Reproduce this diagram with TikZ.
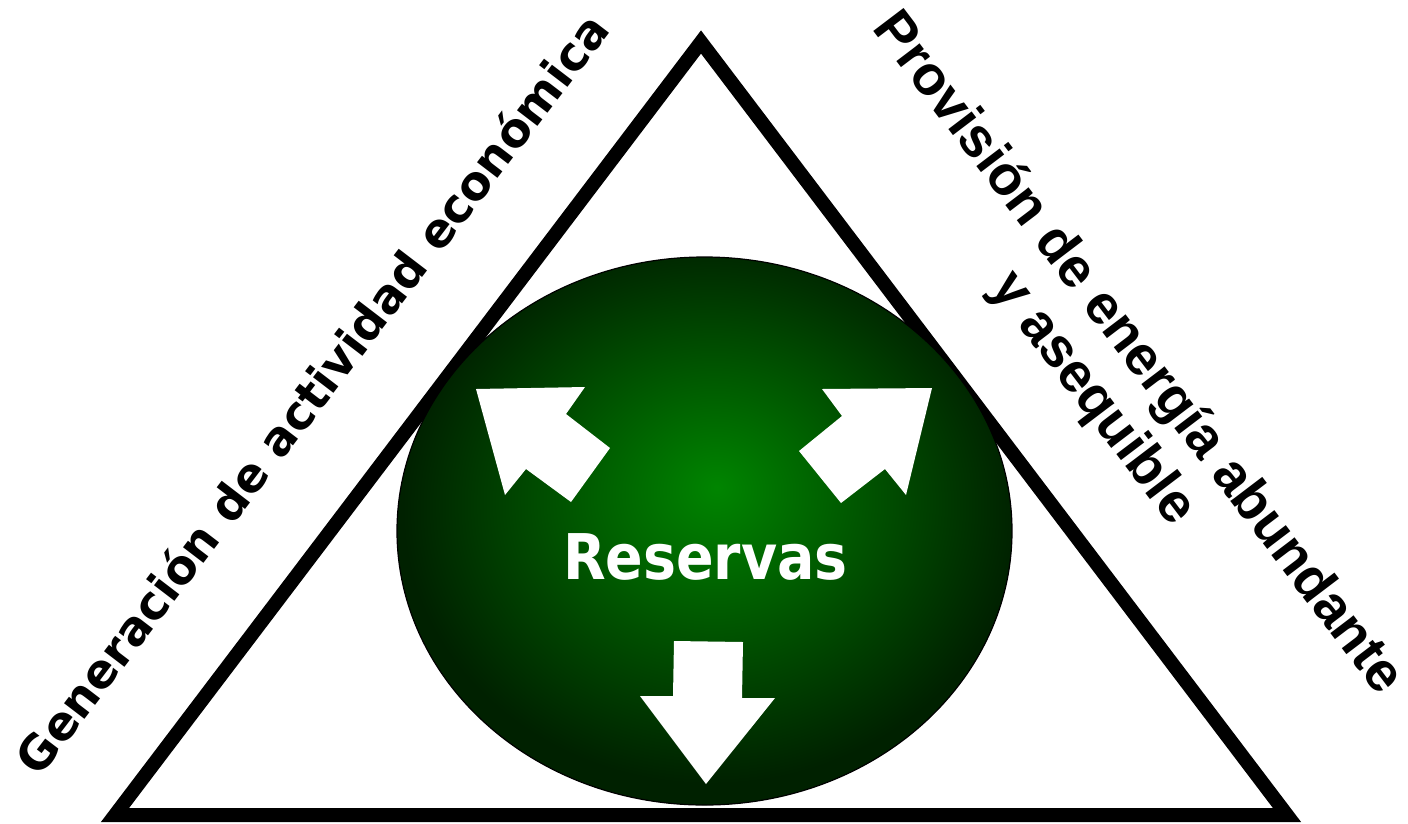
\documentclass[tikz,border=0pt]{standalone}
\usepackage{fontspec}
\newfontfamily\vfont{DejaVu Sans}[BoldFont={DejaVu Sans Bold}]
\newfontfamily\afont{Liberation Sans}
\pgfdeclareradialshading{resshade}{\pgfpoint{1bp}{4bp}}{rgb(0bp)=(0,0.52,0); rgb(25bp)=(0,0.13,0); rgb(50bp)=(0,0.13,0)}
\begin{document}
\begin{tikzpicture}[x=1pt,y=-1pt,
  tri/.style={draw=black,line width=14pt,miter limit=10},
  blob/.style={shading=resshade,draw=black,line width=1.2pt},
  warrow/.style={fill=white,draw=none},
  sidetext/.style={inner sep=0pt,align=center,text=black},
  rtext/.style={sidetext,rotate=-52.8,font=\afont\bfseries\fontsize{55.3}{67}\selectfont}]
\useasboundingbox (0,0) rectangle (1408,823);
\fill[white] (0,0) rectangle (1408,823);
\draw[tri] (701,42) -- (115,815) -- (1287,815) -- cycle;
\shade[blob] (704.5,531) ellipse [x radius=307.5, y radius=274];
\fill[warrow] (476,389) -- (585,387) -- (566,414) -- (610,448) -- (571,502) -- (526,469) -- (505,495) -- cycle;
\fill[warrow] (932,388) -- (906,495) -- (885,469) -- (841,503) -- (799,451) -- (842,416) -- (822,389) -- cycle;
\fill[warrow] (674,641) -- (743,642) -- (742,698) -- (775,698) -- (706,784) -- (640,696) -- (673,696) -- cycle;
\node[anchor=base,inner sep=0pt,text=white,xscale=0.88,font=\vfont\bfseries\fontsize{63}{70}\selectfont] (res) at (705.5,579) {Reservas};
\node[sidetext,rotate=52.6,font=\vfont\bfseries\fontsize{47}{52}\selectfont] (gen) at (311,393) {Generación de actividad económica};
\node[rtext] (prov1) at (1137,354) {Provisión de energía abundante};
\node[rtext] (prov2) at (1092,399) {y asequible};
\end{tikzpicture}
\end{document}
